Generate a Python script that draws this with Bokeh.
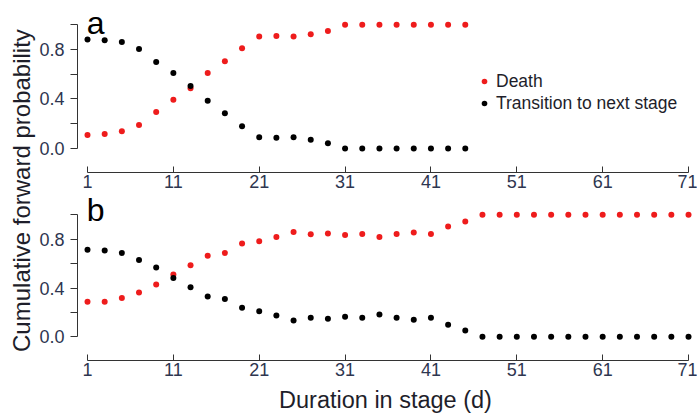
from bokeh.plotting import figure
from bokeh.layouts import row, column
from bokeh.models import (Range1d, FixedTicker, PrintfTickFormatter, Label,
                          Legend, LegendItem, ColumnDataSource)
from bokeh.embed import file_html
from bokeh.resources import INLINE
import math

# ---------------- data ----------------
days_a = [1, 3, 5, 7, 9, 11, 13, 15, 17, 19, 21, 23, 25, 27, 29, 31, 33, 35, 37, 39, 41, 43, 45]
death_a = [0.11, 0.118, 0.14, 0.19, 0.294, 0.393, 0.487, 0.61, 0.705, 0.81, 0.905, 0.91,
           0.905, 0.924, 0.95, 1.0, 1.0, 1.0, 1.0, 1.0, 1.0, 1.0, 1.0]
trans_a = [0.88, 0.875, 0.86, 0.805, 0.70, 0.61, 0.505, 0.385, 0.285, 0.18, 0.09, 0.086,
           0.09, 0.07, 0.043, 0.0, 0.0, 0.0, 0.0, 0.0, 0.0, 0.0, 0.0]

days_b = [1, 3, 5, 7, 9, 11, 13, 15, 17, 19, 21, 23, 25, 27, 29, 31, 33, 35, 37, 39, 41, 43,
          45, 47, 49, 51, 53, 55, 57, 59, 61, 63, 65, 67, 69, 71]
death_b = [0.288, 0.288, 0.318, 0.364, 0.428, 0.512, 0.587, 0.665, 0.687, 0.765, 0.784, 0.819,
           0.859, 0.84, 0.848, 0.834, 0.843, 0.819, 0.843, 0.856, 0.843, 0.905, 0.945,
           1.0, 1.0, 1.0, 1.0, 1.0, 1.0, 1.0, 1.0, 1.0, 1.0, 1.0, 1.0, 1.0]
trans_b = [0.714, 0.708, 0.687, 0.63, 0.568, 0.482, 0.406, 0.331, 0.31, 0.239, 0.21, 0.175,
           0.134, 0.156, 0.148, 0.164, 0.156, 0.183, 0.156, 0.140, 0.156, 0.099, 0.051,
           0.0, 0.0, 0.0, 0.0, 0.0, 0.0, 0.0, 0.0, 0.0, 0.0, 0.0, 0.0, 0.0]

x_ticks = [1, 11, 21, 31, 41, 51, 61, 71]
y_major = [0.0, 0.4, 0.8]
y_minor = [0.2, 0.6, 1.0]
series_labels = ["Death", "Transition to next stage"]
panel_labels = ["a", "b"]
x_title = "Duration in stage (d)"
y_title = "Cumulative forward probability"

# ---------------- style ----------------
FONT = "Liberation Sans"
RED = "#ee1c1c"
BLACK = "#000000"
AXIS = "#333333"
TICKTXT = "#2e3650"
TXT = "#1e1e2a"

X0, X1 = -0.165, 71.58
Y0 = -0.194
PW = 661


def make_panel(days, death, trans, letter, letter_y, y1, height, bottom,
               legend=False, xlabel=None):
    p = figure(width=PW, height=height, output_backend="svg", toolbar_location=None,
               x_range=Range1d(X0, X1), y_range=Range1d(Y0, y1),
               min_border_left=41, min_border_right=4,
               min_border_top=0, min_border_bottom=bottom)
    p.outline_line_color = None
    p.background_fill_color = "white"
    p.border_fill_color = "white"
    p.xgrid.visible = False
    p.ygrid.visible = False

    src_d = ColumnDataSource(dict(x=days, y=death))
    src_t = ColumnDataSource(dict(x=days, y=trans))
    rd = p.scatter("x", "y", source=src_d, size=6, color=RED, line_color=None)
    rt = p.scatter("x", "y", source=src_t, size=6, color=BLACK, line_color=None)

    xa = p.xaxis[0]
    xa.ticker = FixedTicker(ticks=x_ticks)
    xa.bounds = (1, 71)
    xa.axis_line_color = AXIS
    xa.major_tick_line_color = AXIS
    xa.major_tick_in = 6
    xa.major_tick_out = 0
    xa.minor_tick_line_color = None
    xa.major_label_text_font = FONT
    xa.major_label_text_font_size = "18px"
    xa.major_label_text_color = TICKTXT
    xa.major_label_standoff = 2
    if xlabel:
        xa.axis_label = xlabel
        xa.axis_label_text_font = FONT
        xa.axis_label_text_font_size = "23.5px"
        xa.axis_label_text_font_style = "normal"
        xa.axis_label_text_color = TXT
        xa.axis_label_standoff = 8

    ya = p.yaxis[0]
    ya.ticker = FixedTicker(ticks=y_major, minor_ticks=y_minor)
    ya.formatter = PrintfTickFormatter(format="%.1f")
    ya.bounds = (0, 1)
    ya.axis_line_color = AXIS
    ya.major_tick_line_color = AXIS
    ya.minor_tick_line_color = AXIS
    ya.major_tick_in = 0
    ya.major_tick_out = 7
    ya.minor_tick_in = 0
    ya.minor_tick_out = 7
    ya.major_label_text_font = FONT
    ya.major_label_text_font_size = "18px"
    ya.major_label_text_color = TICKTXT
    ya.major_label_standoff = 6

    p.add_layout(Label(x=0.9, y=letter_y, text=letter, text_font=FONT, text_font_size="32px",
                       text_color="#000000", text_baseline="alphabetic", text_align="left"))

    if legend:
        lg = Legend(items=[LegendItem(label=series_labels[0], renderers=[rd]),
                           LegendItem(label=series_labels[1], renderers=[rt])],
                    location=(400, 58), orientation="vertical")
        lg.border_line_color = None
        lg.background_fill_alpha = 0
        lg.padding = 0
        lg.margin = 0
        lg.spacing = 0
        lg.glyph_width = 14
        lg.glyph_height = 22
        lg.label_height = 22
        lg.label_standoff = 5
        lg.label_text_font = FONT
        lg.label_text_font_size = "17.5px"
        lg.label_text_color = TXT
        lg.label_text_baseline = "middle"
        p.add_layout(lg, "center")
    return p


pa = make_panel(days_a, death_a, trans_a, panel_labels[0], 1.018, 1.196, 193, 21, legend=True)
pb = make_panel(days_b, death_b, trans_b, panel_labels[1], 1.037, 1.175, 222, 53, xlabel=x_title)

# shared y title
pl = figure(width=36, height=415, output_backend="svg", toolbar_location=None,
            x_range=Range1d(0, 1), y_range=Range1d(0, 1),
            x_axis_type=None, y_axis_type=None,
            min_border_left=0, min_border_right=0, min_border_top=0, min_border_bottom=0)
pl.outline_line_color = None
pl.xgrid.visible = False
pl.ygrid.visible = False
pl.add_layout(Label(x=0.583, y=0.542, text=y_title, angle=math.pi / 2,
                    text_font=FONT, text_font_size="24px", text_color=TXT,
                    text_align="center", text_baseline="middle"))

layout = row(pl, column(pa, pb, spacing=0), spacing=0)

open("out.html", "w").write(file_html(layout, INLINE))
